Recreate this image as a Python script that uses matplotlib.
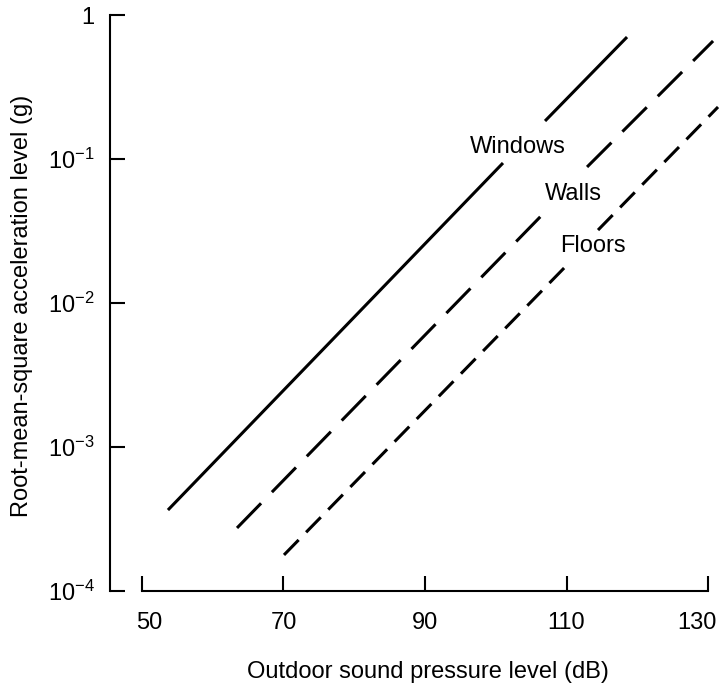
import numpy as np
import matplotlib
matplotlib.use("Agg")
import matplotlib.pyplot as plt
from matplotlib.transforms import ScaledTranslation

plt.rcParams['font.family'] = ['Liberation Sans', 'DejaVu Sans']
plt.rcParams['mathtext.fontset'] = 'custom'
plt.rcParams['mathtext.rm'] = 'Liberation Sans'
plt.rcParams['mathtext.it'] = 'Liberation Sans'
plt.rcParams['lines.scale_dashes'] = False

# ---- data (dB, g); NaN marks the gap left for the label
windows_db = [53.67, 101.02, np.nan, 106.96, 118.55]
windows_g = [3.65e-4, 0.0938, np.nan, 0.1836, 0.703]

walls_db = [63.43, 106.40, np.nan, 112.90, 130.71]
walls_g = [2.74e-4, 0.0402, np.nan, 0.0880, 0.660]

floors_db = [70.07, 110.07, np.nan, 114.45, 131.41]
floors_g = [1.78e-4, 0.01836, np.nan, 0.0321, 0.2297]

series_names = ["Windows", "Walls", "Floors"]
label_pos_db = [96.36, 106.96, 109.08]
label_pos_g = [0.110, 0.0519, 0.0226]

x_ticks = [50, 70, 90, 110, 130]
y_ticks = [1e-4, 1e-3, 1e-2, 1e-1, 1]
y_tick_labels = [r'$\mathregular{10^{-4}}$', r'$\mathregular{10^{-3}}$',
                 r'$\mathregular{10^{-2}}$', r'$\mathregular{10^{-1}}$', '1']

x_label = "Outdoor sound pressure level (dB)"
y_label = "Root-mean-square acceleration level (g)"

# ---- figure
W, H = 724, 688
fig = plt.figure(figsize=(W / 100, H / 100), dpi=100)
ax = fig.add_axes([110 / W, 97 / H, 612.2 / W, 576 / H])

ax.set_yscale('log')
ax.set_xlim(45.48, 132.0)
ax.set_ylim(1e-4, 1)

lw = 2.2
ax.plot(windows_db, windows_g, color='black', lw=lw, solid_capstyle='butt', clip_on=False)
ax.plot(walls_db, walls_g, color='black', lw=lw, clip_on=False,
        dash_capstyle='butt', linestyle=(0, (24.8, 11.2)))
ax.plot(floors_db, floors_g, color='black', lw=lw, clip_on=False,
        dash_capstyle='butt', linestyle=(0, (15.1, 7.7)))

for name, xd, yd in zip(series_names, label_pos_db, label_pos_g):
    ax.text(xd, yd, name, fontsize=17, ha='left', va='baseline', color='black')

# spines
for s in ['top', 'right']:
    ax.spines[s].set_visible(False)
ax.spines['left'].set_linewidth(1.5)
ax.spines['bottom'].set_linewidth(1.5)
ax.spines['bottom'].set_bounds(50, 130)

ax.set_xticks(x_ticks)
ax.set_xticklabels([str(v) for v in x_ticks])
ax.set_yticks(y_ticks)
ax.set_yticklabels(y_tick_labels)
ax.yaxis.set_minor_locator(matplotlib.ticker.NullLocator())
ax.xaxis.set_minor_locator(matplotlib.ticker.NullLocator())

ax.tick_params(axis='both', which='major', direction='in', length=11, width=1.5,
               labelsize=17, color='black')
ax.tick_params(axis='x', pad=15)
ax.tick_params(axis='y', pad=11)

# nudge first and last x tick labels as in the reference
xt_labels = ax.get_xticklabels()
xt_labels[0].set_transform(xt_labels[0].get_transform() +
                           ScaledTranslation(7 / 100, 0, fig.dpi_scale_trans))
xt_labels[-1].set_transform(xt_labels[-1].get_transform() +
                            ScaledTranslation(-11 / 100, 0, fig.dpi_scale_trans))

fig.text(428 / W, 1 - 678 / H, x_label, fontsize=17, ha='center', va='baseline')
fig.text(22 / W, 1 - 306 / H, y_label, fontsize=17, ha='center', va='center',
         rotation=90)

fig.savefig("out.png", dpi=100)
